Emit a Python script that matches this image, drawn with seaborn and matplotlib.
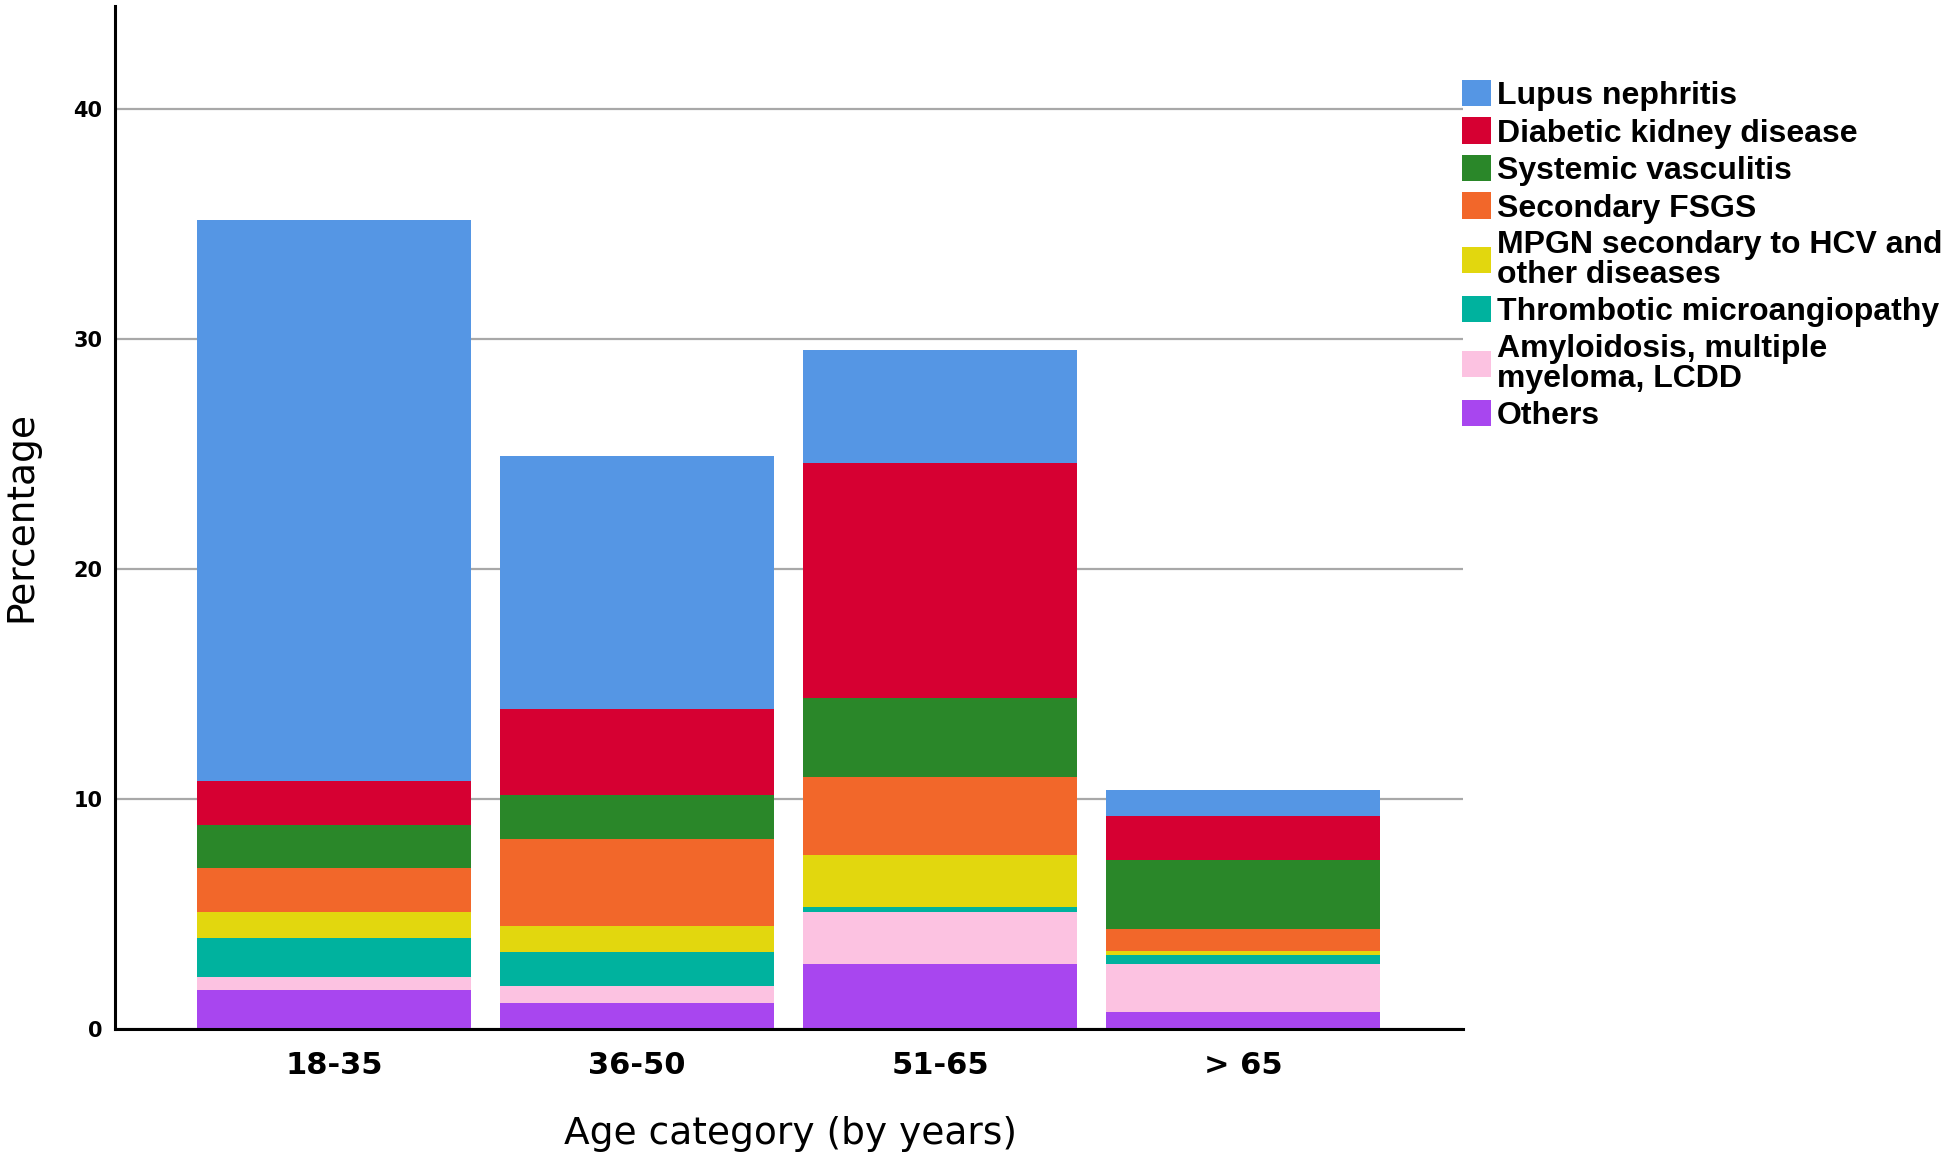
import matplotlib
matplotlib.use("Agg")
import matplotlib.pyplot as plt
import seaborn as sns
from matplotlib.patches import Patch
import numpy as np

categories = ["18-35", "36-50", "51-65", "> 65"]
series_names = [
    "Lupus nephritis",
    "Diabetic kidney disease",
    "Systemic vasculitis",
    "Secondary FSGS",
    "MPGN secondary to HCV and\nother diseases",
    "Thrombotic microangiopathy",
    "Amyloidosis, multiple\nmyeloma, LCDD",
    "Others",
]
# values (percentage) per category
others = [1.70, 1.14, 2.83, 0.74]
amyloid = [0.58, 0.74, 2.28, 2.10]
tma = [1.68, 1.47, 0.20, 0.39]
mpgn = [1.13, 1.11, 2.26, 0.18]
fsgs = [1.91, 3.80, 3.40, 0.95]
vasculitis = [1.88, 1.90, 3.43, 2.99]
dkd = [1.92, 3.78, 10.20, 1.91]
lupus = [24.40, 11.00, 4.94, 1.13]

colors = {
    "Lupus nephritis": "#5596e4",
    "Diabetic kidney disease": "#d60032",
    "Systemic vasculitis": "#2a8729",
    "Secondary FSGS": "#f2672a",
    "MPGN secondary to HCV and\nother diseases": "#e2d70e",
    "Thrombotic microangiopathy": "#00b29e",
    "Amyloidosis, multiple\nmyeloma, LCDD": "#fcc2e1",
    "Others": "#a846ef",
}

stack = [
    ("Others", others),
    ("Amyloidosis, multiple\nmyeloma, LCDD", amyloid),
    ("Thrombotic microangiopathy", tma),
    ("MPGN secondary to HCV and\nother diseases", mpgn),
    ("Secondary FSGS", fsgs),
    ("Systemic vasculitis", vasculitis),
    ("Diabetic kidney disease", dkd),
    ("Lupus nephritis", lupus),
]

sns.set_theme(style="white")
plt.rcParams["font.family"] = ["DejaVu Sans"]
plt.rcParams["text.color"] = "black"
plt.rcParams["xtick.color"] = "black"
plt.rcParams["ytick.color"] = "black"

fig = plt.figure(figsize=(19.44, 11.56), dpi=100)
ax = fig.add_axes([115 / 1944, 1 - 1029 / 1156, (1463 - 115) / 1944, (1029 - 6) / 1156])

bottom = np.zeros(len(categories))
for name, vals in stack:
    sns.barplot(x=categories, y=vals, bottom=bottom, color=colors[name],
                saturation=1, width=0.905, ax=ax, linewidth=0, edgecolor="none")
    bottom = bottom + np.array(vals)

ax.set_xlim(-0.723, 3.726)
ax.set_ylim(0, 44.5)
ax.set_yticks([0, 10, 20, 30, 40])
ax.yaxis.grid(True, color="#a8a8a8", linewidth=1.6)
ax.xaxis.grid(False)
ax.set_axisbelow(True)

for s in ["top", "right"]:
    ax.spines[s].set_visible(False)
for s in ["left", "bottom"]:
    ax.spines[s].set_color("black")
    ax.spines[s].set_linewidth(2.2)

ax.tick_params(axis="both", length=0, colors="black")
ax.tick_params(axis="x", pad=16)
ax.tick_params(axis="y", pad=9)
for lab in ax.get_xticklabels():
    lab.set_fontfamily("DejaVu Sans")
    lab.set_fontweight("bold")
    lab.set_fontsize(22)
    lab.set_color("black")
for lab in ax.get_yticklabels():
    lab.set_fontfamily("DejaVu Sans")
    lab.set_fontweight("bold")
    lab.set_fontsize(15)
    lab.set_color("black")

ax.set_xlabel("")
ax.set_ylabel("")
fig.text(790 / 1944, 1 - 1134 / 1156, "Age category (by years)", fontsize=27,
         ha="center", va="center", color="black")
fig.text(21 / 1944, 1 - 516 / 1156, "Percentage", fontsize=27, rotation=90,
         ha="center", va="center", color="black")

handles = [Patch(facecolor=colors[n], edgecolor="none") for n in series_names]
leg = fig.legend(handles, series_names, loc="upper left",
                 bbox_to_anchor=(1462 / 1944, 1 - 80 / 1156),
                 frameon=False, borderpad=0, borderaxespad=0,
                 handlelength=0.9, handleheight=0.88, handletextpad=0.2,
                 labelspacing=0.2,
                 prop={"family": "Liberation Sans", "weight": "bold", "size": 23})
for t in leg.get_texts():
    t.set_linespacing(1.0)
    t.set_color("black")

fig.savefig("out.png", dpi=100)
